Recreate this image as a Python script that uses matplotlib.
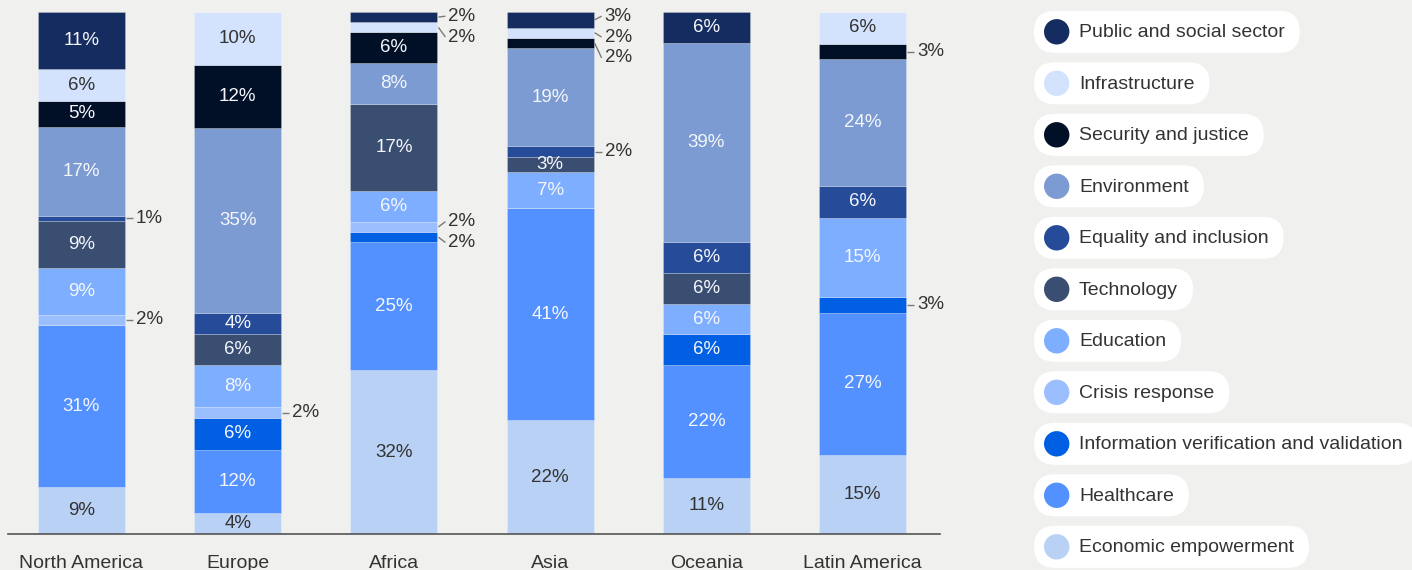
import matplotlib
matplotlib.use("Agg")
import matplotlib.pyplot as plt
from matplotlib.patches import FancyBboxPatch, Circle
import numpy as np

plt.rcParams['font.family'] = ['Liberation Sans', 'DejaVu Sans']

# -----------------------------------------------------------------------------
# Data: share of use cases by focus area, per region (%)
# -----------------------------------------------------------------------------
regions = ["North America", "Europe", "Africa", "Asia", "Oceania", "Latin America"]

# stacking order, bottom -> top
categories = [
    "Economic empowerment",
    "Healthcare",
    "Information verification and validation",
    "Crisis response",
    "Education",
    "Technology",
    "Equality and inclusion",
    "Environment",
    "Security and justice",
    "Infrastructure",
    "Public and social sector",
]

economic_empowerment = [9, 4, 32, 22, 11, 15]
healthcare = [31, 12, 25, 41, 22, 27]
info_verification = [0, 6, 2, 0, 6, 3]
crisis_response = [2, 2, 2, 0, 0, 0]
education = [9, 8, 6, 7, 6, 15]
technology = [9, 6, 17, 3, 6, 0]
equality_inclusion = [1, 4, 0, 2, 6, 6]
environment = [17, 35, 8, 19, 39, 24]
security_justice = [5, 12, 6, 2, 0, 3]
infrastructure = [6, 10, 2, 2, 0, 6]
public_social = [11, 0, 2, 3, 6, 0]

series = [economic_empowerment, healthcare, info_verification, crisis_response,
          education, technology, equality_inclusion, environment,
          security_justice, infrastructure, public_social]

colors = ["#B9D1F5", "#5291FF", "#005FE3", "#9BBEFF", "#7EAEFF", "#3A4E72",
          "#264B99", "#7B9BD2", "#011027", "#D3E3FD", "#152C60"]
dark_text = {"Economic empowerment", "Infrastructure"}

# small values that still fit their label inside the bar
inside_small = {("Asia", "Technology")}

BG = "#F0F0EE"
TEXT = "#333333"
BAR_W = 0.557
PX = 1 / 156.2          # one pixel in x data units
GAP = 4.0               # min vertical spacing between side labels (%)
TOP_LIMIT = 99.2


def spread_labels(centers):
    """Group overlapping side labels and spread them evenly around their mean."""
    order = sorted(range(len(centers)), key=lambda i: -centers[i])
    groups, cur = [], []
    for i in order:
        if cur and centers[cur[-1]] - centers[i] < GAP:
            cur.append(i)
        else:
            if cur:
                groups.append(cur)
            cur = [i]
    if cur:
        groups.append(cur)

    pos = [0.0] * len(centers)
    for g in groups:
        mean = np.mean([centers[i] for i in g])
        n = len(g)
        ys = [mean + GAP * ((n - 1) / 2 - k) for k in range(n)]
        shift = max(0, ys[0] - TOP_LIMIT)
        for k, i in enumerate(g):
            pos[i] = ys[k] - shift
    return pos


def draw_bars(ax):
    data = np.array(series, dtype=float)
    # rounded shares don't always add to 100, so scale each column to full height
    shares = data / data.sum(axis=0) * 100
    x = np.arange(len(regions))
    bottom = np.zeros(len(regions))

    callouts = {r: [] for r in range(len(regions))}
    for ci, cat in enumerate(categories):
        ax.bar(x, shares[ci], BAR_W, bottom=bottom, color=colors[ci],
               edgecolor=(1, 1, 1, 0.22), linewidth=0.7)
        for r in range(len(regions)):
            v = data[ci, r]
            if v <= 0:
                continue
            mid = bottom[r] + shares[ci, r] / 2
            if v <= 3 and (regions[r], cat) not in inside_small:
                callouts[r].append((mid, int(v)))
            else:
                ax.text(x[r], mid, f"{int(v)}%", ha='center', va='center',
                        fontsize=13.5,
                        color=TEXT if cat in dark_text else "#F4F6FB")
        bottom += shares[ci]

    # small segments get a label beside the bar with a short leader line
    for r, items in callouts.items():
        if not items:
            continue
        centers = [c for c, _ in items]
        ys = spread_labels(centers)
        edge = x[r] + BAR_W / 2
        for (c, v), y in zip(items, ys):
            ax.plot([edge + 1 * PX, edge + 8 * PX], [c, y], color="#7a7a7a",
                    lw=1.0, solid_capstyle='butt', clip_on=False)
            ax.text(edge + 11 * PX, y, f"{v}%", ha='left', va='center',
                    fontsize=13.5, color=TEXT)

    ax.set_xlim(-0.4705, 5.496)
    ax.set_ylim(0, 100)
    ax.set_xticks(x)
    ax.set_xticklabels(regions, fontsize=14, color=TEXT)
    ax.tick_params(axis='x', length=0, pad=15)
    ax.set_yticks([])
    for side in ('top', 'right', 'left'):
        ax.spines[side].set_visible(False)
    ax.spines['bottom'].set_color("#555555")
    ax.spines['bottom'].set_linewidth(1.2)
    ax.set_facecolor(BG)


def draw_legend(fig):
    lax = fig.add_axes([0, 0, 1, 1])
    lax.set_xlim(0, 1412)
    lax.set_ylim(570, 0)
    lax.axis('off')

    renderer = fig.canvas.get_renderer()
    inv = lax.transData.inverted()
    for k, ci in enumerate(reversed(range(len(categories)))):
        yc = 31.8 + k * 51.5
        t = lax.text(1079, yc + 1, categories[ci], ha='left', va='center',
                     fontsize=14, color=TEXT, zorder=3)
        bb = t.get_window_extent(renderer)
        x_end = inv.transform((bb.x1, bb.y0))[0]
        pill = FancyBboxPatch((1034, yc - 21), x_end + 15 - 1034, 42,
                              boxstyle="round,pad=0,rounding_size=21",
                              facecolor="white", edgecolor="none", zorder=1)
        lax.add_patch(pill)
        lax.add_patch(Circle((1056.7, yc), 12.7, facecolor=colors[ci],
                             edgecolor="none", zorder=2))


def main():
    fig = plt.figure(figsize=(14.12, 5.70), dpi=100, facecolor=BG)
    ax = fig.add_axes([8 / 1412, 36 / 570, 932 / 1412, 522 / 570])
    draw_bars(ax)
    draw_legend(fig)
    fig.savefig("out.png", dpi=100, facecolor=BG)


if __name__ == "__main__":
    main()
